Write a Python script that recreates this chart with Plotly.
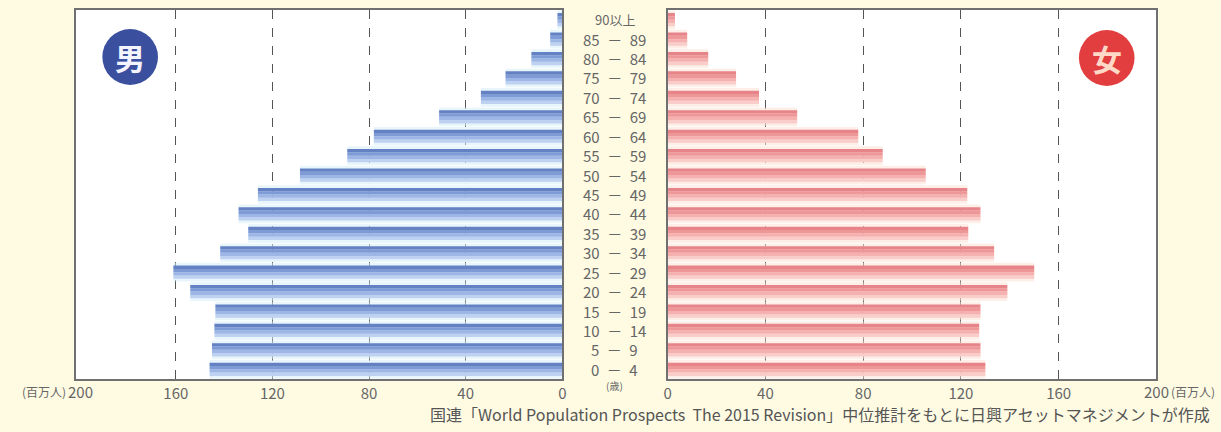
import plotly.graph_objects as go

W, H = 1221, 432

# ---------------- data ----------------
ages = ["0\u2002－\u20024", "5\u2002－\u20029", "10\u2002－\u200214", "15\u2002－\u200219",
        "20\u2002－\u200224", "25\u2002－\u200229", "30\u2002－\u200234", "35\u2002－\u200239",
        "40\u2002－\u200244", "45\u2002－\u200249", "50\u2002－\u200254", "55\u2002－\u200259",
        "60\u2002－\u200264", "65\u2002－\u200269", "70\u2002－\u200274", "75\u2002－\u200279",
        "80\u2002－\u200284", "85\u2002－\u200289", "90以上"]
male = [146, 145, 144, 143.6, 154, 161, 141.6, 130, 134, 126, 108.6, 89,
        78, 51, 33.7, 23.5, 12.8, 5, 2]
female = [130, 128, 127.5, 128, 139, 150, 133.6, 123, 128, 122.6, 105.6, 88,
          78, 53, 37.4, 28, 16.6, 8, 3]
tick_vals = [0, 40, 80, 120, 160]
tick_text = ["0", "40", "80", "120", "160"]
end_tick = "200"
unit_label = "(百万人)"
age_unit = "(歳)"
source = "国連「World Population Prospects  The 2015 Revision」中位推計をもとに日興アセットマネジメントが作成"

FONT = "Noto Sans CJK JP"
BG = "#fffbe3"
TXT = "#666666"

# pixel geometry
PT, PB = 10, 379          # plot top / bottom (px)
PH = PB - PT


def px_x(x):
    return x / W


def px_y(y):
    return (PB - y) / PH


fig = go.Figure()


def add_side(values, xa, ya, tint, stripes):
    # faint tint behind each bar (shows in the gaps)
    fig.add_trace(go.Bar(y=ages, x=values, orientation="h", xaxis=xa, yaxis=ya,
                         width=0.96, offset=-0.48, marker=dict(color=tint, line_width=0),
                         showlegend=False, hoverinfo="skip"))
    # striped bar body (bottom -> top)
    n = len(stripes)
    h = 0.68 / n
    for i, c in enumerate(stripes):
        fig.add_trace(go.Bar(y=ages, x=values, orientation="h", xaxis=xa, yaxis=ya,
                             width=h, offset=-0.34 + i * h,
                             marker=dict(color=c, line_width=0),
                             showlegend=False, hoverinfo="skip"))


add_side(male, "x", "y", "rgba(214,238,250,0.55)",
         ["#bed1f0", "#9db6e5", "#7f9bd6", "#6481c3"])
add_side(female, "x2", "y2", "rgba(252,226,214,0.55)",
         ["#f9cdc9", "#f5b1b0", "#ee9799", "#e6848a"])

axis_common = dict(
    showline=True, linecolor="#707070", linewidth=1.5, mirror=True,
    showgrid=True, gridcolor="#555555", griddash="dash", gridwidth=1,
    zeroline=False, ticks="", tickvals=tick_vals, ticktext=tick_text,
    tickfont=dict(family=FONT, size=15, color=TXT),
    fixedrange=True,
)

fig.update_layout(
    width=W, height=H,
    margin=dict(l=0, r=0, t=PT, b=H - PB),
    paper_bgcolor=BG, plot_bgcolor="white",
    barmode="overlay",
    font=dict(family=FONT, color=TXT),
    xaxis=dict(domain=[px_x(72), px_x(562)], range=[201.5, 0], anchor="y", **axis_common),
    xaxis2=dict(domain=[px_x(668), px_x(1160)], range=[0, 200], anchor="y2", **axis_common),
    yaxis=dict(anchor="x", type="category", categoryorder="array", categoryarray=ages,
               showticklabels=False, showgrid=False, showline=True, linecolor="#707070",
               linewidth=1.5, mirror=True, ticks="", range=[-0.5, len(ages) - 0.5]),
    yaxis2=dict(anchor="x2", matches="y", type="category", categoryorder="array",
                categoryarray=ages, showticklabels=False, showgrid=False, showline=True,
                linecolor="#707070", linewidth=1.5, mirror=True, ticks="",
                range=[-0.5, len(ages) - 0.5]),
)

annotations = []
for a in ages:
    size = 13 if "以上" in a else 15
    annotations.append(dict(x=px_x(615), xref="paper", y=a, yref="y", text=a,
                            showarrow=False, xanchor="center", yanchor="middle",
                            font=dict(family=FONT, size=size, color=TXT)))

TICK_Y = 391
annotations += [
    dict(x=px_x(615), y=px_y(385), xref="paper", yref="paper", text=age_unit,
         showarrow=False, xanchor="center", yanchor="middle",
         font=dict(family=FONT, size=10, color=TXT)),
    # left end label: (百万人)200
    dict(x=px_x(77), y=px_y(TICK_Y), xref="paper", yref="paper", text=end_tick,
         showarrow=False, xanchor="center", yanchor="middle",
         font=dict(family=FONT, size=15, color=TXT)),
    dict(x=px_x(64), y=px_y(TICK_Y), xref="paper", yref="paper", text=unit_label,
         showarrow=False, xanchor="right", yanchor="middle",
         font=dict(family=FONT, size=12, color=TXT)),
    # right end label: 200(百万人)
    dict(x=px_x(1160), y=px_y(TICK_Y), xref="paper", yref="paper", text=end_tick,
         showarrow=False, xanchor="center", yanchor="middle",
         font=dict(family=FONT, size=15, color=TXT)),
    dict(x=px_x(1173), y=px_y(TICK_Y), xref="paper", yref="paper", text=unit_label,
         showarrow=False, xanchor="left", yanchor="middle",
         font=dict(family=FONT, size=12, color=TXT)),
    dict(x=px_x(1216), y=px_y(414), xref="paper", yref="paper", text=source,
         showarrow=False, xanchor="right", yanchor="middle",
         font=dict(family=FONT, size=16, color="#555555")),
    dict(x=px_x(127), y=px_y(57), xref="paper", yref="paper", text="<b>男</b>",
         showarrow=False, xanchor="center", yanchor="middle",
         font=dict(family=FONT, size=30, color="#f4f4ff")),
    dict(x=px_x(1110), y=px_y(58), xref="paper", yref="paper", text="<b>女</b>",
         showarrow=False, xanchor="center", yanchor="middle",
         font=dict(family=FONT, size=30, color="#ffd9c8")),
]

shapes = [
    dict(type="circle", xref="paper", yref="paper",
         x0=px_x(99), x1=px_x(155), y0=px_y(85), y1=px_y(29),
         fillcolor="#3b4f9f", line=dict(width=0)),
    dict(type="circle", xref="paper", yref="paper",
         x0=px_x(1082), x1=px_x(1138), y0=px_y(86), y1=px_y(30),
         fillcolor="#e23d3f", line=dict(width=0)),
]

fig.update_layout(annotations=annotations, shapes=shapes)

fig.write_html(
    "out.html",
    config={"displayModeBar": False},
    post_script="document.body.style.margin='0';document.body.style.background='%s';" % BG,
)
